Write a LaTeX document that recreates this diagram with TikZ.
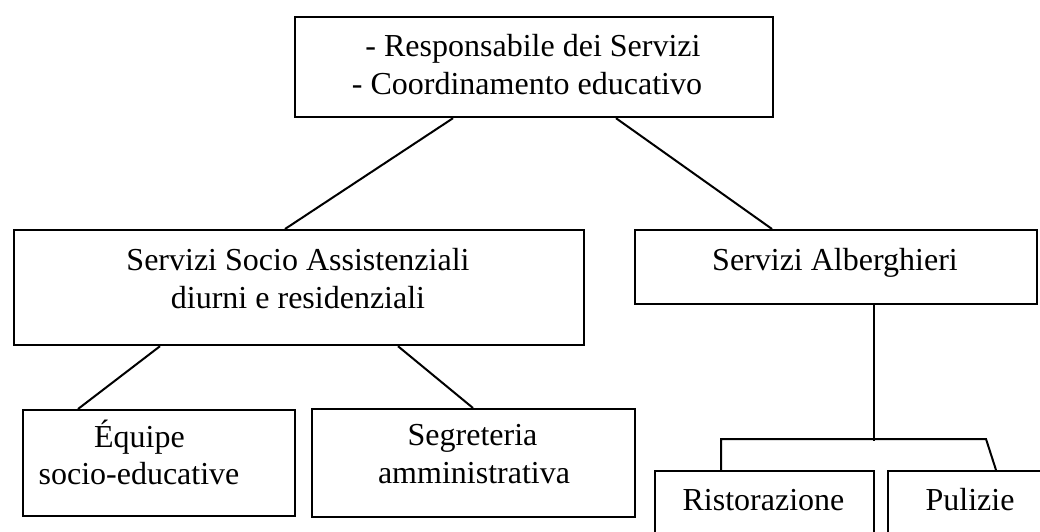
\documentclass[tikz,border=0pt]{standalone}
\usepackage{fontspec}
\setmainfont{Liberation Serif}
\usetikzlibrary{calc}
\begin{document}
\begin{tikzpicture}[x=1pt,y=-1pt,
  box/.style={draw=black,line width=2.2pt,inner sep=0pt,anchor=north west},
  txt/.style={inner sep=0pt,anchor=base,font=\fontsize{32}{38}\selectfont},
  link/.style={draw=black,line width=2pt}]
\useasboundingbox (0,0) rectangle (1040,531);
\clip (0,0) rectangle (1040,531);
\fill[white] (0,0) rectangle (1040,531);
% boxes
\node[box,minimum width=478pt,minimum height=100pt] (top) at (294,16) {};
\node[box,minimum width=570pt,minimum height=115pt] (socio) at (13,229) {};
\node[box,minimum width=402pt,minimum height=74pt] (alb) at (634,229) {};
\node[box,minimum width=272pt,minimum height=106pt] (equipe) at (22,409) {};
\node[box,minimum width=323pt,minimum height=108pt] (segr) at (311,408) {};
\node[box,minimum width=219pt,minimum height=80pt] (rist) at (654,470) {};
\node[box,minimum width=166pt,minimum height=80pt] (pul) at (887,470) {};
% texts
\node[txt] (topA) at (533,56) {- Responsabile dei Servizi};
\node[txt] (topB) at (527,94) {- Coordinamento educativo};
\node[txt] (socioA) at (298,270) {Servizi Socio Assistenziali};
\node[txt] (socioB) at (298,308) {diurni e residenziali};
\node[txt] (albA) at (835,270) {Servizi Alberghieri};
\node[txt] (equipeA) at (139.5,447) {Équipe};
\node[txt] (equipeB) at (139,484) {socio-educative};
\node[txt] (segrA) at (472.5,445) {Segreteria};
\node[txt] (segrB) at (474,483) {amministrativa};
\node[txt] (ristA) at (763.5,510) {Ristorazione};
\node[txt] (pulA) at (970,510) {Pulizie};
% connectors
\draw[link] ($(top.south west)+(159,0)$) -- ($(socio.north west)+(272,0)$);
\draw[link] ($(top.south west)+(322,0)$) -- ($(alb.north west)+(138,0)$);
\draw[link] ($(socio.south west)+(147,0)$) -- ($(equipe.north west)+(56,0)$);
\draw[link] ($(socio.south west)+(385,0)$) -- ($(segr.north west)+(162,0)$);
\coordinate (jr) at (986,439);
\draw[link] ($(alb.south)+(38,0)$) -- ($(alb.south)+(38,136)$);
\draw[link] ($(rist.north west)+(67,0)$) |- (jr) -- ($(pul.north west)+(109,0)$);
\end{tikzpicture}
\end{document}
